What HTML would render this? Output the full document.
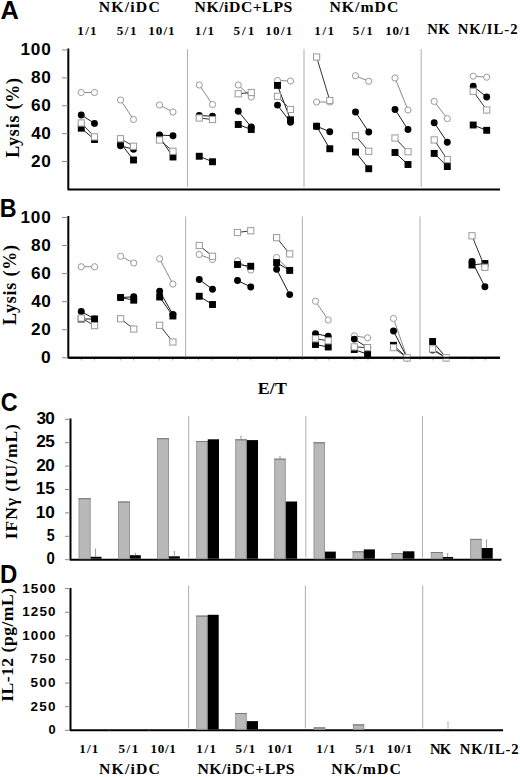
<!DOCTYPE html>
<html><head><meta charset="utf-8"><title>Figure</title>
<style>html,body{margin:0;padding:0;background:#fff;width:520px;height:777px;overflow:hidden}svg{display:block}</style>
</head><body>
<svg width="520" height="777" viewBox="0 0 520 777"><rect x="0" y="0" width="520" height="777" fill="#fff"/>
<text transform="translate(1.20,18.50) scale(1.0029,1)" x="-0.63" y="0" font-family='"Liberation Sans", sans-serif' font-weight="bold" font-size="25.3" letter-spacing="0.000" fill="#000">A</text>
<text transform="translate(1.20,217.30) scale(0.9201,1)" x="-1.71" y="0" font-family='"Liberation Sans", sans-serif' font-weight="bold" font-size="25.3" letter-spacing="0.000" fill="#000">B</text>
<text transform="translate(1.70,411.30) scale(0.9233,1)" x="-1.01" y="0" font-family='"Liberation Sans", sans-serif' font-weight="bold" font-size="25.3" letter-spacing="0.000" fill="#000">C</text>
<text transform="translate(1.70,583.40) scale(0.9486,1)" x="-1.71" y="0" font-family='"Liberation Sans", sans-serif' font-weight="bold" font-size="25.3" letter-spacing="0.000" fill="#000">D</text>
<text transform="translate(99.10,12.40) scale(1.0500,1)" x="-0.30" y="0" font-family='"Liberation Serif", serif' font-weight="bold" font-size="15" letter-spacing="1.126" fill="#000">NK/iDC</text>
<text transform="translate(194.80,12.40) scale(1.0500,1)" x="-0.30" y="0" font-family='"Liberation Serif", serif' font-weight="bold" font-size="15" letter-spacing="0.521" fill="#000">NK/iDC+LPS</text>
<text transform="translate(329.80,12.40) scale(1.0500,1)" x="-0.30" y="0" font-family='"Liberation Serif", serif' font-weight="bold" font-size="15" letter-spacing="0.966" fill="#000">NK/mDC</text>
<text transform="translate(78.40,34.60) scale(1.0500,1)" x="-1.00" y="0" font-family='"Liberation Serif", serif' font-weight="bold" font-size="12.5" letter-spacing="1.177" fill="#000">1/1</text>
<text transform="translate(117.20,34.60) scale(1.0500,1)" x="-0.50" y="0" font-family='"Liberation Serif", serif' font-weight="bold" font-size="12.5" letter-spacing="1.499" fill="#000">5/1</text>
<text transform="translate(149.20,34.60) scale(1.0500,1)" x="-1.00" y="0" font-family='"Liberation Serif", serif' font-weight="bold" font-size="12.5" letter-spacing="1.019" fill="#000">10/1</text>
<text transform="translate(195.80,34.60) scale(1.0500,1)" x="-1.00" y="0" font-family='"Liberation Serif", serif' font-weight="bold" font-size="12.5" letter-spacing="1.272" fill="#000">1/1</text>
<text transform="translate(234.00,34.60) scale(1.0500,1)" x="-0.50" y="0" font-family='"Liberation Serif", serif' font-weight="bold" font-size="12.5" letter-spacing="1.879" fill="#000">5/1</text>
<text transform="translate(266.30,34.60) scale(1.0500,1)" x="-1.00" y="0" font-family='"Liberation Serif", serif' font-weight="bold" font-size="12.5" letter-spacing="1.209" fill="#000">10/1</text>
<text transform="translate(315.30,34.60) scale(1.0500,1)" x="-1.00" y="0" font-family='"Liberation Serif", serif' font-weight="bold" font-size="12.5" letter-spacing="1.510" fill="#000">1/1</text>
<text transform="translate(353.30,34.60) scale(1.0500,1)" x="-0.50" y="0" font-family='"Liberation Serif", serif' font-weight="bold" font-size="12.5" letter-spacing="1.594" fill="#000">5/1</text>
<text transform="translate(386.30,34.60) scale(1.0500,1)" x="-1.00" y="0" font-family='"Liberation Serif", serif' font-weight="bold" font-size="12.5" letter-spacing="0.574" fill="#000">10/1</text>
<text transform="translate(427.50,34.30) scale(1.0500,1)" x="-0.28" y="0" font-family='"Liberation Serif", serif' font-weight="bold" font-size="14" letter-spacing="0.433" fill="#000">NK</text>
<text transform="translate(458.00,34.30) scale(1.0500,1)" x="-0.28" y="0" font-family='"Liberation Serif", serif' font-weight="bold" font-size="14" letter-spacing="0.953" fill="#000">NK/IL-2</text>
<polyline points="68.3,48.5 68.3,189.4 500,189.4" fill="none" stroke="#000" stroke-width="2" stroke-linejoin="round"/>
<line x1="62" y1="50.0" x2="68" y2="50.0" stroke="#888" stroke-width="1"/>
<text transform="translate(21.50,55.00) scale(1.0600,1)" x="-1.02" y="0" font-family='"Liberation Sans", sans-serif' font-weight="bold" font-size="16.25" letter-spacing="0.775" fill="#000">100</text>
<line x1="62" y1="77.88" x2="68" y2="77.88" stroke="#888" stroke-width="1"/>
<text transform="translate(31.60,82.88) scale(1.0600,1)" x="-0.53" y="0" font-family='"Liberation Sans", sans-serif' font-weight="bold" font-size="16.25" letter-spacing="0.593" fill="#000">80</text>
<line x1="62" y1="105.76" x2="68" y2="105.76" stroke="#888" stroke-width="1"/>
<text transform="translate(31.60,110.76) scale(1.0600,1)" x="-0.61" y="0" font-family='"Liberation Sans", sans-serif' font-weight="bold" font-size="16.25" letter-spacing="0.675" fill="#000">60</text>
<line x1="62" y1="133.64000000000001" x2="68" y2="133.64000000000001" stroke="#888" stroke-width="1"/>
<text transform="translate(31.60,138.64) scale(1.0600,1)" x="-0.24" y="0" font-family='"Liberation Sans", sans-serif' font-weight="bold" font-size="16.25" letter-spacing="0.309" fill="#000">40</text>
<line x1="62" y1="161.52" x2="68" y2="161.52" stroke="#888" stroke-width="1"/>
<text transform="translate(31.60,166.52) scale(1.0600,1)" x="-0.57" y="0" font-family='"Liberation Sans", sans-serif' font-weight="bold" font-size="16.25" letter-spacing="0.634" fill="#000">20</text>
<line x1="187.5" y1="49" x2="187.5" y2="186.9" stroke="#b4b4b4" stroke-width="1.1"/>
<line x1="304" y1="49" x2="304" y2="186.9" stroke="#b4b4b4" stroke-width="1.1"/>
<line x1="421.2" y1="49" x2="421.2" y2="186.9" stroke="#b4b4b4" stroke-width="1.1"/>
<text transform="translate(18.80,157.40) rotate(-90) scale(1.0000,1)" x="-0.32" y="0" font-family='"Liberation Serif", serif' font-weight="bold" font-size="18" letter-spacing="0.774">Lysis (%)</text>
<polyline points="68.3,216.0 68.3,357.8 500,357.8" fill="none" stroke="#000" stroke-width="2" stroke-linejoin="round"/>
<line x1="62" y1="217.5" x2="68" y2="217.5" stroke="#888" stroke-width="1"/>
<text transform="translate(21.50,222.50) scale(1.0600,1)" x="-1.02" y="0" font-family='"Liberation Sans", sans-serif' font-weight="bold" font-size="16.25" letter-spacing="0.775" fill="#000">100</text>
<line x1="62" y1="245.56" x2="68" y2="245.56" stroke="#888" stroke-width="1"/>
<text transform="translate(31.60,250.56) scale(1.0600,1)" x="-0.53" y="0" font-family='"Liberation Sans", sans-serif' font-weight="bold" font-size="16.25" letter-spacing="0.593" fill="#000">80</text>
<line x1="62" y1="273.62" x2="68" y2="273.62" stroke="#888" stroke-width="1"/>
<text transform="translate(31.60,278.62) scale(1.0600,1)" x="-0.61" y="0" font-family='"Liberation Sans", sans-serif' font-weight="bold" font-size="16.25" letter-spacing="0.675" fill="#000">60</text>
<line x1="62" y1="301.68" x2="68" y2="301.68" stroke="#888" stroke-width="1"/>
<text transform="translate(31.60,306.68) scale(1.0600,1)" x="-0.24" y="0" font-family='"Liberation Sans", sans-serif' font-weight="bold" font-size="16.25" letter-spacing="0.309" fill="#000">40</text>
<line x1="62" y1="329.74" x2="68" y2="329.74" stroke="#888" stroke-width="1"/>
<text transform="translate(31.60,334.74) scale(1.0600,1)" x="-0.57" y="0" font-family='"Liberation Sans", sans-serif' font-weight="bold" font-size="16.25" letter-spacing="0.634" fill="#000">20</text>
<line x1="62" y1="357.8" x2="68" y2="357.8" stroke="#888" stroke-width="1"/>
<text transform="translate(41.80,362.80) scale(1.0753,1)" x="-0.65" y="0" font-family='"Liberation Sans", sans-serif' font-weight="bold" font-size="16.25" letter-spacing="0.000" fill="#000">0</text>
<line x1="185.6" y1="216.5" x2="185.6" y2="360" stroke="#b4b4b4" stroke-width="1.1"/>
<line x1="302.4" y1="216.5" x2="302.4" y2="360" stroke="#b4b4b4" stroke-width="1.1"/>
<line x1="420" y1="216.5" x2="420" y2="360" stroke="#b4b4b4" stroke-width="1.1"/>
<text transform="translate(16.20,324.60) rotate(-90) scale(1.0000,1)" x="-0.32" y="0" font-family='"Liberation Serif", serif' font-weight="bold" font-size="18" letter-spacing="0.812">Lysis (%)</text>
<line x1="81.25" y1="358.5" x2="81.25" y2="360.5" stroke="#999" stroke-width="0.8"/>
<line x1="94.45" y1="358.5" x2="94.45" y2="360.5" stroke="#999" stroke-width="0.8"/>
<line x1="120.33" y1="358.5" x2="120.33" y2="360.5" stroke="#999" stroke-width="0.8"/>
<line x1="133.53" y1="358.5" x2="133.53" y2="360.5" stroke="#999" stroke-width="0.8"/>
<line x1="159.41" y1="358.5" x2="159.41" y2="360.5" stroke="#999" stroke-width="0.8"/>
<line x1="172.60999999999999" y1="358.5" x2="172.60999999999999" y2="360.5" stroke="#999" stroke-width="0.8"/>
<line x1="198.49" y1="358.5" x2="198.49" y2="360.5" stroke="#999" stroke-width="0.8"/>
<line x1="211.69" y1="358.5" x2="211.69" y2="360.5" stroke="#999" stroke-width="0.8"/>
<line x1="237.57" y1="358.5" x2="237.57" y2="360.5" stroke="#999" stroke-width="0.8"/>
<line x1="250.76999999999998" y1="358.5" x2="250.76999999999998" y2="360.5" stroke="#999" stroke-width="0.8"/>
<line x1="276.65" y1="358.5" x2="276.65" y2="360.5" stroke="#999" stroke-width="0.8"/>
<line x1="289.84999999999997" y1="358.5" x2="289.84999999999997" y2="360.5" stroke="#999" stroke-width="0.8"/>
<line x1="315.73" y1="358.5" x2="315.73" y2="360.5" stroke="#999" stroke-width="0.8"/>
<line x1="328.93" y1="358.5" x2="328.93" y2="360.5" stroke="#999" stroke-width="0.8"/>
<line x1="354.81" y1="358.5" x2="354.81" y2="360.5" stroke="#999" stroke-width="0.8"/>
<line x1="368.01" y1="358.5" x2="368.01" y2="360.5" stroke="#999" stroke-width="0.8"/>
<line x1="393.89" y1="358.5" x2="393.89" y2="360.5" stroke="#999" stroke-width="0.8"/>
<line x1="407.09" y1="358.5" x2="407.09" y2="360.5" stroke="#999" stroke-width="0.8"/>
<line x1="432.96999999999997" y1="358.5" x2="432.96999999999997" y2="360.5" stroke="#999" stroke-width="0.8"/>
<line x1="446.16999999999996" y1="358.5" x2="446.16999999999996" y2="360.5" stroke="#999" stroke-width="0.8"/>
<line x1="472.04999999999995" y1="358.5" x2="472.04999999999995" y2="360.5" stroke="#999" stroke-width="0.8"/>
<line x1="485.24999999999994" y1="358.5" x2="485.24999999999994" y2="360.5" stroke="#999" stroke-width="0.8"/>
<line x1="81.25" y1="92.5" x2="94.5" y2="92.5" stroke="#8a8a8a" stroke-width="1"/>
<circle cx="81.25" cy="92.5" r="3.1" fill="#fff" stroke="#9a9a9a" stroke-width="1"/>
<circle cx="94.5" cy="92.5" r="3.1" fill="#fff" stroke="#9a9a9a" stroke-width="1"/>
<line x1="81.25" y1="115" x2="94.5" y2="123.4" stroke="#1a1a1a" stroke-width="1"/>
<circle cx="81.25" cy="115" r="3.45" fill="#000"/>
<circle cx="94.5" cy="123.4" r="3.45" fill="#000"/>
<line x1="81.25" y1="128.2" x2="94.5" y2="139.5" stroke="#1a1a1a" stroke-width="1"/>
<rect x="77.8" y="124.74999999999999" width="6.9" height="6.9" fill="#000"/>
<rect x="91.05" y="136.05" width="6.9" height="6.9" fill="#000"/>
<line x1="81.25" y1="123" x2="94.5" y2="136.9" stroke="#333" stroke-width="1"/>
<rect x="78.15" y="119.9" width="6.2" height="6.2" fill="#fff" stroke="#9a9a9a" stroke-width="1"/>
<rect x="91.4" y="133.8" width="6.2" height="6.2" fill="#fff" stroke="#9a9a9a" stroke-width="1"/>
<line x1="120.5" y1="100" x2="133.5" y2="119.5" stroke="#8a8a8a" stroke-width="1"/>
<circle cx="120.5" cy="100" r="3.1" fill="#fff" stroke="#9a9a9a" stroke-width="1"/>
<circle cx="133.5" cy="119.5" r="3.1" fill="#fff" stroke="#9a9a9a" stroke-width="1"/>
<line x1="120.5" y1="145.75" x2="133.5" y2="149.3" stroke="#1a1a1a" stroke-width="1"/>
<circle cx="120.5" cy="145.75" r="3.45" fill="#000"/>
<circle cx="133.5" cy="149.3" r="3.45" fill="#000"/>
<line x1="120.5" y1="143" x2="133.5" y2="160" stroke="#1a1a1a" stroke-width="1"/>
<rect x="117.05" y="139.55" width="6.9" height="6.9" fill="#000"/>
<rect x="130.05" y="156.55" width="6.9" height="6.9" fill="#000"/>
<line x1="120.5" y1="138.75" x2="133.5" y2="146.25" stroke="#333" stroke-width="1"/>
<rect x="117.4" y="135.65" width="6.2" height="6.2" fill="#fff" stroke="#9a9a9a" stroke-width="1"/>
<rect x="130.4" y="143.15" width="6.2" height="6.2" fill="#fff" stroke="#9a9a9a" stroke-width="1"/>
<line x1="159.5" y1="105" x2="173" y2="112" stroke="#8a8a8a" stroke-width="1"/>
<circle cx="159.5" cy="105" r="3.1" fill="#fff" stroke="#9a9a9a" stroke-width="1"/>
<circle cx="173" cy="112" r="3.1" fill="#fff" stroke="#9a9a9a" stroke-width="1"/>
<line x1="159.5" y1="135" x2="173" y2="135.75" stroke="#1a1a1a" stroke-width="1"/>
<circle cx="159.5" cy="135" r="3.45" fill="#000"/>
<circle cx="173" cy="135.75" r="3.45" fill="#000"/>
<line x1="159.5" y1="137" x2="173" y2="157" stroke="#1a1a1a" stroke-width="1"/>
<rect x="156.05" y="133.55" width="6.9" height="6.9" fill="#000"/>
<rect x="169.55" y="153.55" width="6.9" height="6.9" fill="#000"/>
<line x1="159.5" y1="140" x2="173" y2="151.25" stroke="#333" stroke-width="1"/>
<rect x="156.4" y="136.9" width="6.2" height="6.2" fill="#fff" stroke="#9a9a9a" stroke-width="1"/>
<rect x="169.9" y="148.15" width="6.2" height="6.2" fill="#fff" stroke="#9a9a9a" stroke-width="1"/>
<line x1="199.25" y1="85" x2="212.5" y2="104.5" stroke="#8a8a8a" stroke-width="1"/>
<circle cx="199.25" cy="85" r="3.1" fill="#fff" stroke="#9a9a9a" stroke-width="1"/>
<circle cx="212.5" cy="104.5" r="3.1" fill="#fff" stroke="#9a9a9a" stroke-width="1"/>
<line x1="199.25" y1="115.5" x2="212.5" y2="116.25" stroke="#1a1a1a" stroke-width="1"/>
<circle cx="199.25" cy="115.5" r="3.45" fill="#000"/>
<circle cx="212.5" cy="116.25" r="3.45" fill="#000"/>
<line x1="199.25" y1="156.25" x2="212.5" y2="161.75" stroke="#1a1a1a" stroke-width="1"/>
<rect x="195.8" y="152.8" width="6.9" height="6.9" fill="#000"/>
<rect x="209.05" y="158.3" width="6.9" height="6.9" fill="#000"/>
<line x1="199.25" y1="118" x2="212.5" y2="119.5" stroke="#333" stroke-width="1"/>
<rect x="196.15" y="114.9" width="6.2" height="6.2" fill="#fff" stroke="#9a9a9a" stroke-width="1"/>
<rect x="209.4" y="116.4" width="6.2" height="6.2" fill="#fff" stroke="#9a9a9a" stroke-width="1"/>
<line x1="238.25" y1="85" x2="251.25" y2="97" stroke="#8a8a8a" stroke-width="1"/>
<circle cx="238.25" cy="85" r="3.1" fill="#fff" stroke="#9a9a9a" stroke-width="1"/>
<circle cx="251.25" cy="97" r="3.1" fill="#fff" stroke="#9a9a9a" stroke-width="1"/>
<line x1="238.25" y1="111.25" x2="251.25" y2="127" stroke="#1a1a1a" stroke-width="1"/>
<circle cx="238.25" cy="111.25" r="3.45" fill="#000"/>
<circle cx="251.25" cy="127" r="3.45" fill="#000"/>
<line x1="238.25" y1="124.5" x2="251.25" y2="129.5" stroke="#1a1a1a" stroke-width="1"/>
<rect x="234.8" y="121.05" width="6.9" height="6.9" fill="#000"/>
<rect x="247.8" y="126.05" width="6.9" height="6.9" fill="#000"/>
<line x1="238.25" y1="93.75" x2="251.25" y2="92.5" stroke="#333" stroke-width="1"/>
<rect x="235.15" y="90.65" width="6.2" height="6.2" fill="#fff" stroke="#9a9a9a" stroke-width="1"/>
<rect x="248.15" y="89.4" width="6.2" height="6.2" fill="#fff" stroke="#9a9a9a" stroke-width="1"/>
<line x1="277.5" y1="80.5" x2="290.5" y2="81" stroke="#8a8a8a" stroke-width="1"/>
<circle cx="277.5" cy="80.5" r="3.1" fill="#fff" stroke="#9a9a9a" stroke-width="1"/>
<circle cx="290.5" cy="81" r="3.1" fill="#fff" stroke="#9a9a9a" stroke-width="1"/>
<line x1="277.5" y1="105.1" x2="290.5" y2="122.3" stroke="#1a1a1a" stroke-width="1"/>
<circle cx="277.5" cy="105.1" r="3.45" fill="#000"/>
<circle cx="290.5" cy="122.3" r="3.45" fill="#000"/>
<line x1="277.5" y1="85.4" x2="290.5" y2="119.8" stroke="#1a1a1a" stroke-width="1"/>
<rect x="274.05" y="81.95" width="6.9" height="6.9" fill="#000"/>
<rect x="287.05" y="116.35" width="6.9" height="6.9" fill="#000"/>
<line x1="277.5" y1="96.3" x2="290.5" y2="109.5" stroke="#333" stroke-width="1"/>
<rect x="274.4" y="93.2" width="6.2" height="6.2" fill="#fff" stroke="#9a9a9a" stroke-width="1"/>
<rect x="287.4" y="106.4" width="6.2" height="6.2" fill="#fff" stroke="#9a9a9a" stroke-width="1"/>
<line x1="316.6" y1="102" x2="329.8" y2="102" stroke="#8a8a8a" stroke-width="1"/>
<circle cx="316.6" cy="102" r="3.1" fill="#fff" stroke="#9a9a9a" stroke-width="1"/>
<circle cx="329.8" cy="102" r="3.1" fill="#fff" stroke="#9a9a9a" stroke-width="1"/>
<line x1="316.6" y1="126.25" x2="329.8" y2="131.75" stroke="#1a1a1a" stroke-width="1"/>
<circle cx="316.6" cy="126.25" r="3.45" fill="#000"/>
<circle cx="329.8" cy="131.75" r="3.45" fill="#000"/>
<line x1="316.6" y1="126.25" x2="329.8" y2="148.75" stroke="#1a1a1a" stroke-width="1"/>
<rect x="313.15000000000003" y="122.8" width="6.9" height="6.9" fill="#000"/>
<rect x="326.35" y="145.3" width="6.9" height="6.9" fill="#000"/>
<line x1="316.6" y1="57" x2="329.8" y2="100.5" stroke="#333" stroke-width="1"/>
<rect x="313.5" y="53.9" width="6.2" height="6.2" fill="#fff" stroke="#9a9a9a" stroke-width="1"/>
<rect x="326.7" y="97.4" width="6.2" height="6.2" fill="#fff" stroke="#9a9a9a" stroke-width="1"/>
<line x1="355.5" y1="75.75" x2="368.75" y2="81.25" stroke="#8a8a8a" stroke-width="1"/>
<circle cx="355.5" cy="75.75" r="3.1" fill="#fff" stroke="#9a9a9a" stroke-width="1"/>
<circle cx="368.75" cy="81.25" r="3.1" fill="#fff" stroke="#9a9a9a" stroke-width="1"/>
<line x1="355.5" y1="112" x2="368.75" y2="132" stroke="#1a1a1a" stroke-width="1"/>
<circle cx="355.5" cy="112" r="3.45" fill="#000"/>
<circle cx="368.75" cy="132" r="3.45" fill="#000"/>
<line x1="355.5" y1="152" x2="368.75" y2="168.75" stroke="#1a1a1a" stroke-width="1"/>
<rect x="352.05" y="148.55" width="6.9" height="6.9" fill="#000"/>
<rect x="365.3" y="165.3" width="6.9" height="6.9" fill="#000"/>
<line x1="355.5" y1="135.75" x2="368.75" y2="151.25" stroke="#333" stroke-width="1"/>
<rect x="352.4" y="132.65" width="6.2" height="6.2" fill="#fff" stroke="#9a9a9a" stroke-width="1"/>
<rect x="365.65" y="148.15" width="6.2" height="6.2" fill="#fff" stroke="#9a9a9a" stroke-width="1"/>
<line x1="395" y1="78" x2="408" y2="110" stroke="#8a8a8a" stroke-width="1"/>
<circle cx="395" cy="78" r="3.1" fill="#fff" stroke="#9a9a9a" stroke-width="1"/>
<circle cx="408" cy="110" r="3.1" fill="#fff" stroke="#9a9a9a" stroke-width="1"/>
<line x1="395" y1="109.5" x2="408" y2="129.5" stroke="#1a1a1a" stroke-width="1"/>
<circle cx="395" cy="109.5" r="3.45" fill="#000"/>
<circle cx="408" cy="129.5" r="3.45" fill="#000"/>
<line x1="395" y1="152.5" x2="408" y2="164.5" stroke="#1a1a1a" stroke-width="1"/>
<rect x="391.55" y="149.05" width="6.9" height="6.9" fill="#000"/>
<rect x="404.55" y="161.05" width="6.9" height="6.9" fill="#000"/>
<line x1="395" y1="138" x2="408" y2="151.75" stroke="#333" stroke-width="1"/>
<rect x="391.9" y="134.9" width="6.2" height="6.2" fill="#fff" stroke="#9a9a9a" stroke-width="1"/>
<rect x="404.9" y="148.65" width="6.2" height="6.2" fill="#fff" stroke="#9a9a9a" stroke-width="1"/>
<line x1="434.2" y1="101.4" x2="447.3" y2="118.6" stroke="#8a8a8a" stroke-width="1"/>
<circle cx="434.2" cy="101.4" r="3.1" fill="#fff" stroke="#9a9a9a" stroke-width="1"/>
<circle cx="447.3" cy="118.6" r="3.1" fill="#fff" stroke="#9a9a9a" stroke-width="1"/>
<line x1="434.2" y1="122.7" x2="447.3" y2="142.3" stroke="#1a1a1a" stroke-width="1"/>
<circle cx="434.2" cy="122.7" r="3.45" fill="#000"/>
<circle cx="447.3" cy="142.3" r="3.45" fill="#000"/>
<line x1="434.2" y1="153.4" x2="447.3" y2="166.5" stroke="#1a1a1a" stroke-width="1"/>
<rect x="430.75" y="149.95000000000002" width="6.9" height="6.9" fill="#000"/>
<rect x="443.85" y="163.05" width="6.9" height="6.9" fill="#000"/>
<line x1="434.2" y1="139.9" x2="447.3" y2="159.5" stroke="#333" stroke-width="1"/>
<rect x="431.09999999999997" y="136.8" width="6.2" height="6.2" fill="#fff" stroke="#9a9a9a" stroke-width="1"/>
<rect x="444.2" y="156.4" width="6.2" height="6.2" fill="#fff" stroke="#9a9a9a" stroke-width="1"/>
<line x1="473.2" y1="76.2" x2="486.7" y2="77.2" stroke="#8a8a8a" stroke-width="1"/>
<circle cx="473.2" cy="76.2" r="3.1" fill="#fff" stroke="#9a9a9a" stroke-width="1"/>
<circle cx="486.7" cy="77.2" r="3.1" fill="#fff" stroke="#9a9a9a" stroke-width="1"/>
<line x1="473.2" y1="86.25" x2="486.7" y2="97" stroke="#1a1a1a" stroke-width="1"/>
<circle cx="473.2" cy="86.25" r="3.45" fill="#000"/>
<circle cx="486.7" cy="97" r="3.45" fill="#000"/>
<line x1="473.2" y1="125" x2="486.7" y2="130.3" stroke="#1a1a1a" stroke-width="1"/>
<rect x="469.75" y="121.55" width="6.9" height="6.9" fill="#000"/>
<rect x="483.25" y="126.85000000000001" width="6.9" height="6.9" fill="#000"/>
<line x1="473.2" y1="91.3" x2="486.7" y2="110" stroke="#333" stroke-width="1"/>
<rect x="470.09999999999997" y="88.2" width="6.2" height="6.2" fill="#fff" stroke="#9a9a9a" stroke-width="1"/>
<rect x="483.59999999999997" y="106.9" width="6.2" height="6.2" fill="#fff" stroke="#9a9a9a" stroke-width="1"/>
<line x1="81.25" y1="266.75" x2="94.6" y2="266.75" stroke="#8a8a8a" stroke-width="1"/>
<circle cx="81.25" cy="266.75" r="3.1" fill="#fff" stroke="#9a9a9a" stroke-width="1"/>
<circle cx="94.6" cy="266.75" r="3.1" fill="#fff" stroke="#9a9a9a" stroke-width="1"/>
<line x1="81.25" y1="311.5" x2="94.6" y2="319" stroke="#1a1a1a" stroke-width="1"/>
<circle cx="81.25" cy="311.5" r="3.45" fill="#000"/>
<circle cx="94.6" cy="319" r="3.45" fill="#000"/>
<line x1="81.25" y1="319" x2="94.6" y2="319" stroke="#1a1a1a" stroke-width="1"/>
<rect x="77.8" y="315.55" width="6.9" height="6.9" fill="#000"/>
<rect x="91.14999999999999" y="315.55" width="6.9" height="6.9" fill="#000"/>
<line x1="81.25" y1="318.1" x2="94.6" y2="325.6" stroke="#333" stroke-width="1"/>
<rect x="78.15" y="315.0" width="6.2" height="6.2" fill="#fff" stroke="#9a9a9a" stroke-width="1"/>
<rect x="91.5" y="322.5" width="6.2" height="6.2" fill="#fff" stroke="#9a9a9a" stroke-width="1"/>
<line x1="120.6" y1="256.25" x2="133.75" y2="263" stroke="#8a8a8a" stroke-width="1"/>
<circle cx="120.6" cy="256.25" r="3.1" fill="#fff" stroke="#9a9a9a" stroke-width="1"/>
<circle cx="133.75" cy="263" r="3.1" fill="#fff" stroke="#9a9a9a" stroke-width="1"/>
<line x1="120.6" y1="297.5" x2="133.75" y2="296.8" stroke="#1a1a1a" stroke-width="1"/>
<circle cx="120.6" cy="297.5" r="3.45" fill="#000"/>
<circle cx="133.75" cy="296.8" r="3.45" fill="#000"/>
<line x1="120.6" y1="297.5" x2="133.75" y2="300.2" stroke="#1a1a1a" stroke-width="1"/>
<rect x="117.14999999999999" y="294.05" width="6.9" height="6.9" fill="#000"/>
<rect x="130.3" y="296.75" width="6.9" height="6.9" fill="#000"/>
<line x1="120.6" y1="318.75" x2="133.75" y2="329" stroke="#333" stroke-width="1"/>
<rect x="117.5" y="315.65" width="6.2" height="6.2" fill="#fff" stroke="#9a9a9a" stroke-width="1"/>
<rect x="130.65" y="325.9" width="6.2" height="6.2" fill="#fff" stroke="#9a9a9a" stroke-width="1"/>
<line x1="159.65" y1="258.75" x2="172.9" y2="284.1" stroke="#8a8a8a" stroke-width="1"/>
<circle cx="159.65" cy="258.75" r="3.1" fill="#fff" stroke="#9a9a9a" stroke-width="1"/>
<circle cx="172.9" cy="284.1" r="3.1" fill="#fff" stroke="#9a9a9a" stroke-width="1"/>
<line x1="159.65" y1="291.2" x2="172.9" y2="314.5" stroke="#1a1a1a" stroke-width="1"/>
<circle cx="159.65" cy="291.2" r="3.45" fill="#000"/>
<circle cx="172.9" cy="314.5" r="3.45" fill="#000"/>
<line x1="159.65" y1="297" x2="172.9" y2="316" stroke="#1a1a1a" stroke-width="1"/>
<rect x="156.20000000000002" y="293.55" width="6.9" height="6.9" fill="#000"/>
<rect x="169.45000000000002" y="312.55" width="6.9" height="6.9" fill="#000"/>
<line x1="159.65" y1="325.3" x2="172.9" y2="342" stroke="#333" stroke-width="1"/>
<rect x="156.55" y="322.2" width="6.2" height="6.2" fill="#fff" stroke="#9a9a9a" stroke-width="1"/>
<rect x="169.8" y="338.9" width="6.2" height="6.2" fill="#fff" stroke="#9a9a9a" stroke-width="1"/>
<line x1="199.25" y1="254.5" x2="212.5" y2="259.5" stroke="#8a8a8a" stroke-width="1"/>
<circle cx="199.25" cy="254.5" r="3.1" fill="#fff" stroke="#9a9a9a" stroke-width="1"/>
<circle cx="212.5" cy="259.5" r="3.1" fill="#fff" stroke="#9a9a9a" stroke-width="1"/>
<line x1="199.25" y1="279.5" x2="212.5" y2="289.25" stroke="#1a1a1a" stroke-width="1"/>
<circle cx="199.25" cy="279.5" r="3.45" fill="#000"/>
<circle cx="212.5" cy="289.25" r="3.45" fill="#000"/>
<line x1="199.25" y1="296.25" x2="212.5" y2="304.5" stroke="#1a1a1a" stroke-width="1"/>
<rect x="195.8" y="292.8" width="6.9" height="6.9" fill="#000"/>
<rect x="209.05" y="301.05" width="6.9" height="6.9" fill="#000"/>
<line x1="199.25" y1="245.5" x2="212.5" y2="256.25" stroke="#333" stroke-width="1"/>
<rect x="196.15" y="242.4" width="6.2" height="6.2" fill="#fff" stroke="#9a9a9a" stroke-width="1"/>
<rect x="209.4" y="253.15" width="6.2" height="6.2" fill="#fff" stroke="#9a9a9a" stroke-width="1"/>
<line x1="237.5" y1="260.75" x2="250.75" y2="270" stroke="#8a8a8a" stroke-width="1"/>
<circle cx="237.5" cy="260.75" r="3.1" fill="#fff" stroke="#9a9a9a" stroke-width="1"/>
<circle cx="250.75" cy="270" r="3.1" fill="#fff" stroke="#9a9a9a" stroke-width="1"/>
<line x1="237.5" y1="280.5" x2="250.75" y2="287" stroke="#1a1a1a" stroke-width="1"/>
<circle cx="237.5" cy="280.5" r="3.45" fill="#000"/>
<circle cx="250.75" cy="287" r="3.45" fill="#000"/>
<line x1="237.5" y1="264.5" x2="250.75" y2="266.25" stroke="#1a1a1a" stroke-width="1"/>
<rect x="234.05" y="261.05" width="6.9" height="6.9" fill="#000"/>
<rect x="247.3" y="262.8" width="6.9" height="6.9" fill="#000"/>
<line x1="237.5" y1="232.5" x2="250.75" y2="230.75" stroke="#333" stroke-width="1"/>
<rect x="234.4" y="229.4" width="6.2" height="6.2" fill="#fff" stroke="#9a9a9a" stroke-width="1"/>
<rect x="247.65" y="227.65" width="6.2" height="6.2" fill="#fff" stroke="#9a9a9a" stroke-width="1"/>
<line x1="276.6" y1="257.5" x2="289.7" y2="270.4" stroke="#8a8a8a" stroke-width="1"/>
<circle cx="276.6" cy="257.5" r="3.1" fill="#fff" stroke="#9a9a9a" stroke-width="1"/>
<circle cx="289.7" cy="270.4" r="3.1" fill="#fff" stroke="#9a9a9a" stroke-width="1"/>
<line x1="276.6" y1="269.3" x2="289.7" y2="294.6" stroke="#1a1a1a" stroke-width="1"/>
<circle cx="276.6" cy="269.3" r="3.45" fill="#000"/>
<circle cx="289.7" cy="294.6" r="3.45" fill="#000"/>
<line x1="276.6" y1="262.6" x2="289.7" y2="270.4" stroke="#1a1a1a" stroke-width="1"/>
<rect x="273.15000000000003" y="259.15000000000003" width="6.9" height="6.9" fill="#000"/>
<rect x="286.25" y="266.95" width="6.9" height="6.9" fill="#000"/>
<line x1="276.6" y1="237.7" x2="289.7" y2="253.9" stroke="#333" stroke-width="1"/>
<rect x="273.5" y="234.6" width="6.2" height="6.2" fill="#fff" stroke="#9a9a9a" stroke-width="1"/>
<rect x="286.59999999999997" y="250.8" width="6.2" height="6.2" fill="#fff" stroke="#9a9a9a" stroke-width="1"/>
<line x1="315.5" y1="301.25" x2="328.25" y2="320" stroke="#8a8a8a" stroke-width="1"/>
<circle cx="315.5" cy="301.25" r="3.1" fill="#fff" stroke="#9a9a9a" stroke-width="1"/>
<circle cx="328.25" cy="320" r="3.1" fill="#fff" stroke="#9a9a9a" stroke-width="1"/>
<line x1="315.5" y1="333.75" x2="328.25" y2="336.25" stroke="#1a1a1a" stroke-width="1"/>
<circle cx="315.5" cy="333.75" r="3.45" fill="#000"/>
<circle cx="328.25" cy="336.25" r="3.45" fill="#000"/>
<line x1="315.5" y1="344.5" x2="328.25" y2="347" stroke="#1a1a1a" stroke-width="1"/>
<rect x="312.05" y="341.05" width="6.9" height="6.9" fill="#000"/>
<rect x="324.8" y="343.55" width="6.9" height="6.9" fill="#000"/>
<line x1="315.5" y1="338.75" x2="328.25" y2="340.75" stroke="#333" stroke-width="1"/>
<rect x="312.4" y="335.65" width="6.2" height="6.2" fill="#fff" stroke="#9a9a9a" stroke-width="1"/>
<rect x="325.15" y="337.65" width="6.2" height="6.2" fill="#fff" stroke="#9a9a9a" stroke-width="1"/>
<line x1="354.3" y1="335.9" x2="367.6" y2="337.8" stroke="#8a8a8a" stroke-width="1"/>
<circle cx="354.3" cy="335.9" r="3.1" fill="#fff" stroke="#9a9a9a" stroke-width="1"/>
<circle cx="367.6" cy="337.8" r="3.1" fill="#fff" stroke="#9a9a9a" stroke-width="1"/>
<line x1="354.3" y1="339.1" x2="367.6" y2="347.6" stroke="#1a1a1a" stroke-width="1"/>
<circle cx="354.3" cy="339.1" r="3.45" fill="#000"/>
<circle cx="367.6" cy="347.6" r="3.45" fill="#000"/>
<line x1="354.3" y1="349.5" x2="367.6" y2="354.3" stroke="#1a1a1a" stroke-width="1"/>
<rect x="350.85" y="346.05" width="6.9" height="6.9" fill="#000"/>
<rect x="364.15000000000003" y="350.85" width="6.9" height="6.9" fill="#000"/>
<line x1="354.3" y1="346.9" x2="367.6" y2="347.6" stroke="#333" stroke-width="1"/>
<rect x="351.2" y="343.79999999999995" width="6.2" height="6.2" fill="#fff" stroke="#9a9a9a" stroke-width="1"/>
<rect x="364.5" y="344.5" width="6.2" height="6.2" fill="#fff" stroke="#9a9a9a" stroke-width="1"/>
<line x1="393.5" y1="318.5" x2="407.1" y2="357.8" stroke="#8a8a8a" stroke-width="1"/>
<circle cx="393.5" cy="318.5" r="3.1" fill="#fff" stroke="#9a9a9a" stroke-width="1"/>
<circle cx="407.1" cy="357.8" r="3.1" fill="#fff" stroke="#9a9a9a" stroke-width="1"/>
<line x1="393.5" y1="331" x2="407.1" y2="357.8" stroke="#1a1a1a" stroke-width="1"/>
<circle cx="393.5" cy="331" r="3.45" fill="#000"/>
<circle cx="407.1" cy="357.8" r="3.45" fill="#000"/>
<line x1="393.5" y1="345.3" x2="407.1" y2="357.8" stroke="#1a1a1a" stroke-width="1"/>
<rect x="390.05" y="341.85" width="6.9" height="6.9" fill="#000"/>
<rect x="403.65000000000003" y="354.35" width="6.9" height="6.9" fill="#000"/>
<line x1="393.5" y1="347.6" x2="407.1" y2="357.8" stroke="#333" stroke-width="1"/>
<rect x="390.4" y="344.5" width="6.2" height="6.2" fill="#fff" stroke="#9a9a9a" stroke-width="1"/>
<rect x="404.0" y="354.7" width="6.2" height="6.2" fill="#fff" stroke="#c8c8c8" stroke-width="1"/>
<line x1="432.6" y1="350" x2="446.3" y2="357.8" stroke="#1a1a1a" stroke-width="1"/>
<circle cx="432.6" cy="350" r="3.45" fill="#000"/>
<circle cx="446.3" cy="357.8" r="3.45" fill="#000"/>
<line x1="432.6" y1="341.5" x2="446.3" y2="357.8" stroke="#1a1a1a" stroke-width="1"/>
<rect x="429.15000000000003" y="338.05" width="6.9" height="6.9" fill="#000"/>
<rect x="442.85" y="354.35" width="6.9" height="6.9" fill="#000"/>
<line x1="432.6" y1="348.9" x2="446.3" y2="357.8" stroke="#333" stroke-width="1"/>
<rect x="429.5" y="345.79999999999995" width="6.2" height="6.2" fill="#fff" stroke="#9a9a9a" stroke-width="1"/>
<rect x="443.2" y="354.7" width="6.2" height="6.2" fill="#fff" stroke="#c8c8c8" stroke-width="1"/>
<line x1="472" y1="261.5" x2="484.9" y2="286.7" stroke="#1a1a1a" stroke-width="1"/>
<circle cx="472" cy="261.5" r="3.45" fill="#000"/>
<circle cx="484.9" cy="286.7" r="3.45" fill="#000"/>
<line x1="472" y1="265" x2="484.9" y2="263.5" stroke="#1a1a1a" stroke-width="1"/>
<rect x="468.55" y="261.55" width="6.9" height="6.9" fill="#000"/>
<rect x="481.45" y="260.05" width="6.9" height="6.9" fill="#000"/>
<line x1="472" y1="235.8" x2="484.9" y2="267.3" stroke="#333" stroke-width="1"/>
<rect x="468.9" y="232.70000000000002" width="6.2" height="6.2" fill="#fff" stroke="#9a9a9a" stroke-width="1"/>
<rect x="481.79999999999995" y="264.2" width="6.2" height="6.2" fill="#fff" stroke="#9a9a9a" stroke-width="1"/>
<line x1="69" y1="357.8" x2="500" y2="357.8" stroke="#000" stroke-width="2"/>
<text transform="translate(258.00,393.60) scale(1.1200,1)" x="-0.28" y="0" font-family='"Liberation Serif", serif' font-weight="bold" font-size="16" letter-spacing="0.128" fill="#000">E/T</text>
<defs><pattern id="stip" width="2" height="2" patternUnits="userSpaceOnUse"><rect width="2" height="2" fill="#c4c4c4"/><rect width="1" height="1" fill="#a8a8a8"/></pattern></defs>
<polyline points="70.5,418.5 70.5,559.7 501.5,559.7" fill="none" stroke="#000" stroke-width="2" stroke-linejoin="round"/>
<line x1="65" y1="419.3" x2="70" y2="419.3" stroke="#888" stroke-width="1"/>
<line x1="65" y1="442.70000000000005" x2="70" y2="442.70000000000005" stroke="#888" stroke-width="1"/>
<line x1="65" y1="466.1" x2="70" y2="466.1" stroke="#888" stroke-width="1"/>
<line x1="65" y1="489.5" x2="70" y2="489.5" stroke="#888" stroke-width="1"/>
<line x1="65" y1="512.9" x2="70" y2="512.9" stroke="#888" stroke-width="1"/>
<line x1="65" y1="536.3000000000001" x2="70" y2="536.3000000000001" stroke="#888" stroke-width="1"/>
<line x1="65" y1="559.7" x2="70" y2="559.7" stroke="#888" stroke-width="1"/>
<line x1="188.7" y1="416" x2="188.7" y2="557.7" stroke="#b4b4b4" stroke-width="1.1"/>
<line x1="305.8" y1="416" x2="305.8" y2="557.7" stroke="#b4b4b4" stroke-width="1.1"/>
<line x1="422.5" y1="416" x2="422.5" y2="557.7" stroke="#b4b4b4" stroke-width="1.1"/>
<text transform="translate(36.90,424.00) scale(1.0600,1)" x="-0.37" y="0" font-family='"Liberation Sans", sans-serif' font-weight="bold" font-size="16.25" letter-spacing="-0.701" fill="#000">30</text>
<text transform="translate(36.90,447.40) scale(1.0600,1)" x="-0.57" y="0" font-family='"Liberation Sans", sans-serif' font-weight="bold" font-size="16.25" letter-spacing="-0.701" fill="#000">25</text>
<text transform="translate(36.90,470.80) scale(1.0600,1)" x="-0.57" y="0" font-family='"Liberation Sans", sans-serif' font-weight="bold" font-size="16.25" letter-spacing="-0.498" fill="#000">20</text>
<text transform="translate(36.90,494.20) scale(1.0600,1)" x="-1.02" y="0" font-family='"Liberation Sans", sans-serif' font-weight="bold" font-size="16.25" letter-spacing="-0.254" fill="#000">15</text>
<text transform="translate(36.90,517.60) scale(1.0600,1)" x="-1.02" y="0" font-family='"Liberation Sans", sans-serif' font-weight="bold" font-size="16.25" letter-spacing="-0.051" fill="#000">10</text>
<text transform="translate(47.10,541.00) scale(0.8782,1)" x="-0.49" y="0" font-family='"Liberation Sans", sans-serif' font-weight="bold" font-size="16.25" letter-spacing="0.000" fill="#000">5</text>
<text transform="translate(47.10,564.40) scale(0.9198,1)" x="-0.65" y="0" font-family='"Liberation Sans", sans-serif' font-weight="bold" font-size="16.25" letter-spacing="0.000" fill="#000">0</text>
<text transform="translate(16.90,538.60) rotate(-90) scale(1.0000,1)" x="-0.57" y="0" font-family='"Liberation Serif", serif' font-weight="bold" font-size="17.5" letter-spacing="0.918">IFNγ (IU/mL)</text>
<rect x="79.0" y="498.7" width="11.200000000000003" height="60.00000000000006" fill="#b9b9b9" stroke="#989898" stroke-width="1"/>
<line x1="78.5" y1="498.7" x2="90.7" y2="498.7" stroke="#7a7a7a" stroke-width="1"/>
<rect x="90.7" y="556.8" width="10.799999999999997" height="1.900000000000091" fill="#000"/>
<rect x="118.5" y="502.0" width="11" height="56.700000000000045" fill="#b9b9b9" stroke="#989898" stroke-width="1"/>
<line x1="118" y1="502.0" x2="130" y2="502.0" stroke="#7a7a7a" stroke-width="1"/>
<rect x="130" y="555.2" width="10.800000000000011" height="3.5" fill="#000"/>
<rect x="157.5" y="438.7" width="11" height="120.00000000000006" fill="#b9b9b9" stroke="#989898" stroke-width="1"/>
<line x1="157" y1="438.7" x2="169" y2="438.7" stroke="#7a7a7a" stroke-width="1"/>
<rect x="169" y="556.3" width="10.800000000000011" height="2.400000000000091" fill="#000"/>
<rect x="196.7" y="441.5" width="10.5" height="117.20000000000005" fill="#b9b9b9" stroke="#989898" stroke-width="1"/>
<line x1="196.2" y1="441.5" x2="207.7" y2="441.5" stroke="#7a7a7a" stroke-width="1"/>
<rect x="207.7" y="439.3" width="11.300000000000011" height="119.40000000000003" fill="#000"/>
<rect x="235.7" y="439.8" width="10.600000000000023" height="118.90000000000003" fill="#b9b9b9" stroke="#989898" stroke-width="1"/>
<line x1="235.2" y1="439.8" x2="246.8" y2="439.8" stroke="#7a7a7a" stroke-width="1"/>
<rect x="246.8" y="440.1" width="11.199999999999989" height="118.60000000000002" fill="#000"/>
<rect x="274.7" y="459.2" width="10.600000000000023" height="99.50000000000006" fill="#b9b9b9" stroke="#989898" stroke-width="1"/>
<line x1="274.2" y1="459.2" x2="285.8" y2="459.2" stroke="#7a7a7a" stroke-width="1"/>
<rect x="285.8" y="501.5" width="11.300000000000011" height="57.200000000000045" fill="#000"/>
<rect x="314.0" y="442.8" width="10.5" height="115.90000000000003" fill="#b9b9b9" stroke="#989898" stroke-width="1"/>
<line x1="313.5" y1="442.8" x2="325" y2="442.8" stroke="#7a7a7a" stroke-width="1"/>
<rect x="325" y="551.6" width="10.800000000000011" height="7.100000000000023" fill="#000"/>
<rect x="353.0" y="551.8" width="10.300000000000011" height="6.900000000000091" fill="#b9b9b9" stroke="#989898" stroke-width="1"/>
<line x1="352.5" y1="551.8" x2="363.8" y2="551.8" stroke="#7a7a7a" stroke-width="1"/>
<rect x="363.8" y="549.4" width="11.099999999999966" height="9.300000000000068" fill="#000"/>
<rect x="392.0" y="553.5" width="10.399999999999977" height="5.2000000000000455" fill="#b9b9b9" stroke="#989898" stroke-width="1"/>
<line x1="391.5" y1="553.5" x2="402.9" y2="553.5" stroke="#7a7a7a" stroke-width="1"/>
<rect x="402.9" y="551.3" width="11.5" height="7.400000000000091" fill="#000"/>
<rect x="431.3" y="552.5" width="11.0" height="6.2000000000000455" fill="#b9b9b9" stroke="#989898" stroke-width="1"/>
<line x1="430.8" y1="552.5" x2="442.8" y2="552.5" stroke="#7a7a7a" stroke-width="1"/>
<rect x="442.8" y="557" width="10.300000000000011" height="1.7000000000000455" fill="#000"/>
<rect x="470.6" y="539.4" width="10.599999999999966" height="19.300000000000068" fill="#b9b9b9" stroke="#989898" stroke-width="1"/>
<line x1="470.1" y1="539.4" x2="481.7" y2="539.4" stroke="#7a7a7a" stroke-width="1"/>
<rect x="481.7" y="548" width="11.0" height="10.700000000000045" fill="#000"/>
<line x1="95.5" y1="556.8" x2="95.5" y2="549" stroke="#888" stroke-width="0.8"/>
<line x1="94.7" y1="549" x2="96.3" y2="549" stroke="#888" stroke-width="0.6"/>
<line x1="135.4" y1="555.2" x2="135.4" y2="553.2" stroke="#888" stroke-width="0.8"/>
<line x1="134.6" y1="553.2" x2="136.20000000000002" y2="553.2" stroke="#888" stroke-width="0.6"/>
<line x1="174.4" y1="556.3" x2="174.4" y2="551.6" stroke="#888" stroke-width="0.8"/>
<line x1="173.6" y1="551.6" x2="175.20000000000002" y2="551.6" stroke="#888" stroke-width="0.6"/>
<line x1="241" y1="439.3" x2="241" y2="436.3" stroke="#888" stroke-width="0.8"/>
<line x1="240.2" y1="436.3" x2="241.8" y2="436.3" stroke="#888" stroke-width="0.6"/>
<line x1="280" y1="458.7" x2="280" y2="456.3" stroke="#888" stroke-width="0.8"/>
<line x1="279.2" y1="456.3" x2="280.8" y2="456.3" stroke="#888" stroke-width="0.6"/>
<line x1="447.6" y1="557" x2="447.6" y2="553.5" stroke="#888" stroke-width="0.8"/>
<line x1="446.8" y1="553.5" x2="448.40000000000003" y2="553.5" stroke="#888" stroke-width="0.6"/>
<line x1="486.5" y1="548" x2="486.5" y2="540" stroke="#888" stroke-width="0.8"/>
<line x1="485.7" y1="540" x2="487.3" y2="540" stroke="#888" stroke-width="0.6"/>
<polyline points="70.5,588.0 70.5,730.3 503,730.3" fill="none" stroke="#000" stroke-width="2" stroke-linejoin="round"/>
<line x1="65" y1="588.6" x2="70" y2="588.6" stroke="#888" stroke-width="1"/>
<line x1="65" y1="612.2166666666667" x2="70" y2="612.2166666666667" stroke="#888" stroke-width="1"/>
<line x1="65" y1="635.8333333333334" x2="70" y2="635.8333333333334" stroke="#888" stroke-width="1"/>
<line x1="65" y1="659.45" x2="70" y2="659.45" stroke="#888" stroke-width="1"/>
<line x1="65" y1="683.0666666666666" x2="70" y2="683.0666666666666" stroke="#888" stroke-width="1"/>
<line x1="65" y1="706.6833333333333" x2="70" y2="706.6833333333333" stroke="#888" stroke-width="1"/>
<line x1="65" y1="730.3" x2="70" y2="730.3" stroke="#888" stroke-width="1"/>
<line x1="188.6" y1="585.5" x2="188.6" y2="728.3" stroke="#b4b4b4" stroke-width="1.1"/>
<line x1="305.4" y1="585.5" x2="305.4" y2="728.3" stroke="#b4b4b4" stroke-width="1.1"/>
<line x1="422.7" y1="585.5" x2="422.7" y2="728.3" stroke="#b4b4b4" stroke-width="1.1"/>
<text transform="translate(23.00,592.60) scale(1.0600,1)" x="-0.79" y="0" font-family='"Liberation Sans", sans-serif' font-weight="bold" font-size="12.7" letter-spacing="1.088" fill="#000">1500</text>
<text transform="translate(23.00,616.22) scale(1.0600,1)" x="-0.79" y="0" font-family='"Liberation Sans", sans-serif' font-weight="bold" font-size="12.7" letter-spacing="1.088" fill="#000">1250</text>
<text transform="translate(23.00,639.83) scale(1.0600,1)" x="-0.79" y="0" font-family='"Liberation Sans", sans-serif' font-weight="bold" font-size="12.7" letter-spacing="1.088" fill="#000">1000</text>
<text transform="translate(30.90,663.45) scale(1.0600,1)" x="-0.54" y="0" font-family='"Liberation Sans", sans-serif' font-weight="bold" font-size="12.7" letter-spacing="1.303" fill="#000">750</text>
<text transform="translate(30.90,687.07) scale(1.0600,1)" x="-0.38" y="0" font-family='"Liberation Sans", sans-serif' font-weight="bold" font-size="12.7" letter-spacing="1.224" fill="#000">500</text>
<text transform="translate(30.90,710.68) scale(1.0600,1)" x="-0.44" y="0" font-family='"Liberation Sans", sans-serif' font-weight="bold" font-size="12.7" letter-spacing="1.256" fill="#000">250</text>
<text transform="translate(48.90,734.30) scale(1.0112,1)" x="-0.51" y="0" font-family='"Liberation Sans", sans-serif' font-weight="bold" font-size="12.7" letter-spacing="0.000" fill="#000">0</text>
<text transform="translate(13.00,701.30) rotate(-90) scale(1.0000,1)" x="-0.57" y="0" font-family='"Liberation Serif", serif' font-weight="bold" font-size="17.5" letter-spacing="0.534">IL-12 (pg/mL)</text>
<rect x="196.7" y="616.1" width="10.5" height="113.19999999999993" fill="#b9b9b9" stroke="#989898" stroke-width="1"/>
<line x1="196.2" y1="616.1" x2="207.7" y2="616.1" stroke="#7a7a7a" stroke-width="1"/>
<rect x="207.7" y="614.8" width="11.0" height="114.5" fill="#000"/>
<rect x="235.7" y="713.5" width="10.600000000000023" height="15.799999999999955" fill="#b9b9b9" stroke="#989898" stroke-width="1"/>
<line x1="235.2" y1="713.5" x2="246.8" y2="713.5" stroke="#7a7a7a" stroke-width="1"/>
<rect x="246.8" y="721.1" width="11.199999999999989" height="8.199999999999932" fill="#000"/>
<rect x="314.0" y="727.9" width="10.899999999999977" height="1.3999999999999773" fill="#b9b9b9" stroke="#989898" stroke-width="1"/>
<line x1="313.5" y1="727.9" x2="325.4" y2="727.9" stroke="#7a7a7a" stroke-width="1"/>
<rect x="353.4" y="724.9" width="10.400000000000034" height="4.399999999999977" fill="#b9b9b9" stroke="#989898" stroke-width="1"/>
<line x1="352.9" y1="724.9" x2="364.3" y2="724.9" stroke="#7a7a7a" stroke-width="1"/>
<line x1="448" y1="728.6" x2="448" y2="722.3" stroke="#999" stroke-width="0.8"/>
<line x1="447.2" y1="722.3" x2="448.8" y2="722.3" stroke="#999" stroke-width="0.6"/>
<line x1="109.3" y1="730.5" x2="109.3" y2="732" stroke="#aaa" stroke-width="0.8"/>
<line x1="148.8" y1="730.5" x2="148.8" y2="732" stroke="#aaa" stroke-width="0.8"/>
<text transform="translate(80.40,753.40) scale(1.0500,1)" x="-1.00" y="0" font-family='"Liberation Serif", serif' font-weight="bold" font-size="12.5" letter-spacing="1.082" fill="#000">1/1</text>
<text transform="translate(119.00,753.40) scale(1.0500,1)" x="-0.50" y="0" font-family='"Liberation Serif", serif' font-weight="bold" font-size="12.5" letter-spacing="1.451" fill="#000">5/1</text>
<text transform="translate(151.50,753.40) scale(1.0500,1)" x="-1.00" y="0" font-family='"Liberation Serif", serif' font-weight="bold" font-size="12.5" letter-spacing="0.670" fill="#000">10/1</text>
<text transform="translate(197.30,753.40) scale(1.0500,1)" x="-1.00" y="0" font-family='"Liberation Serif", serif' font-weight="bold" font-size="12.5" letter-spacing="1.510" fill="#000">1/1</text>
<text transform="translate(236.00,753.40) scale(1.0500,1)" x="-0.50" y="0" font-family='"Liberation Serif", serif' font-weight="bold" font-size="12.5" letter-spacing="1.499" fill="#000">5/1</text>
<text transform="translate(268.30,753.40) scale(1.0500,1)" x="-1.00" y="0" font-family='"Liberation Serif", serif' font-weight="bold" font-size="12.5" letter-spacing="0.733" fill="#000">10/1</text>
<text transform="translate(317.30,753.40) scale(1.0500,1)" x="-1.00" y="0" font-family='"Liberation Serif", serif' font-weight="bold" font-size="12.5" letter-spacing="1.129" fill="#000">1/1</text>
<text transform="translate(355.80,753.40) scale(1.0500,1)" x="-0.50" y="0" font-family='"Liberation Serif", serif' font-weight="bold" font-size="12.5" letter-spacing="1.260" fill="#000">5/1</text>
<text transform="translate(387.80,753.40) scale(1.0500,1)" x="-1.00" y="0" font-family='"Liberation Serif", serif' font-weight="bold" font-size="12.5" letter-spacing="0.670" fill="#000">10/1</text>
<text transform="translate(430.40,754.20) scale(1.0500,1)" x="-0.28" y="0" font-family='"Liberation Serif", serif' font-weight="bold" font-size="14" letter-spacing="-0.996" fill="#000">NK</text>
<text transform="translate(460.00,754.20) scale(1.0500,1)" x="-0.28" y="0" font-family='"Liberation Serif", serif' font-weight="bold" font-size="14" letter-spacing="0.795" fill="#000">NK/IL-2</text>
<text transform="translate(99.40,773.70) scale(1.0500,1)" x="-0.30" y="0" font-family='"Liberation Serif", serif' font-weight="bold" font-size="15" letter-spacing="1.088" fill="#000">NK/iDC</text>
<text transform="translate(197.80,773.70) scale(1.0500,1)" x="-0.30" y="0" font-family='"Liberation Serif", serif' font-weight="bold" font-size="15" letter-spacing="0.447" fill="#000">NK/iDC+LPS</text>
<text transform="translate(331.50,774.00) scale(1.0500,1)" x="-0.30" y="0" font-family='"Liberation Serif", serif' font-weight="bold" font-size="15" letter-spacing="1.118" fill="#000">NK/mDC</text></svg>
</body></html>
